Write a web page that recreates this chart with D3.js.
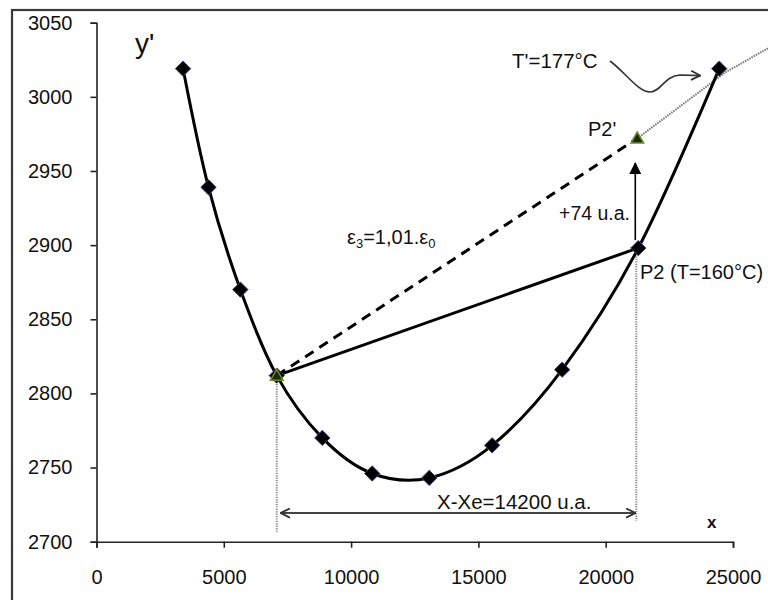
<!DOCTYPE html>
<html><head><meta charset="utf-8">
<script src="https://cdn.jsdelivr.net/npm/d3@7"></script>
<style>
html,body{margin:0;padding:0;background:#fff;}
svg{display:block;font-family:"Liberation Sans",Arial,sans-serif;}
</style></head>
<body>
<svg id="chart" width="768" height="600"></svg>
<script>
// ---- data ----
const xValues = [3400, 4400, 5650, 7080, 8870, 10830, 13070, 15540, 18290, 21280, 24460];
const yValues = [3019, 2939, 2870, 2812, 2770, 2746, 2743, 2765, 2816, 2898, 3019];
const xTicks = [0, 5000, 10000, 15000, 20000, 25000];
const yTicks = [2700, 2750, 2800, 2850, 2900, 2950, 3000, 3050];
const pointP1 = [7080, 2812];
const pointP2 = [21260, 2898];
const pointP2b = [21240, 2972];
const extLine = [[21240, 2972], [24700, 3016.5], [26400, 3033]];
const labelY = "y'";
const labelX = "x";
const textT = "T'=177°C";
const textP2b = "P2'";
const textDelta = "+74 u.a.";
const textP2 = "P2 (T=160°C)";
const textDX = "X-Xe=14200 u.a.";

// ---- layout ----
const svg = d3.select("#chart");
const x = d3.scaleLinear().domain([0, 25000]).range([96.5, 733]);
const y = d3.scaleLinear().domain([2700, 3050]).range([541.7, 22.7]);

// frame
svg.append("rect").attr("x", 12).attr("y", 10).attr("width", 800).attr("height", 620)
  .attr("fill", "#fff").attr("stroke", "#3a3a3a").attr("stroke-width", 2.2);

// axes
const yAxis = svg.append("g").attr("transform", `translate(${x(0)},0)`)
  .call(d3.axisLeft(y).tickValues(yTicks).tickFormat(d3.format("d")).tickSize(6).tickPadding(18));
const xAxis = svg.append("g").attr("transform", `translate(0,${y(2700)})`)
  .call(d3.axisBottom(x).tickValues(xTicks).tickFormat(d3.format("d")).tickSize(6).tickPadding(22));
[xAxis, yAxis].forEach(g => {
  g.selectAll("path,line").attr("stroke", "#222").attr("stroke-width", 1.6);
  g.selectAll("text").attr("font-size", 20).attr("fill", "#111")
    .attr("font-family", "Liberation Sans, Arial, sans-serif");
});

// dotted verticals
const dotted = {stroke: "#888", "stroke-width": 2, "stroke-dasharray": "1.2,1.2"};
function applyAttrs(sel, o){ Object.entries(o).forEach(([k,v]) => sel.attr(k, v)); return sel; }
applyAttrs(svg.append("line").attr("x1", x(pointP1[0])).attr("x2", x(pointP1[0]))
  .attr("y1", y(pointP1[1]) + 6).attr("y2", 533), dotted);
applyAttrs(svg.append("line").attr("x1", x(pointP2[0]) - 1.5).attr("x2", x(pointP2[0]) - 1.5)
  .attr("y1", y(pointP2[1]) + 6).attr("y2", 521), dotted);

// extension dotted line
applyAttrs(svg.append("path").attr("d", d3.line().x(d => x(d[0])).y(d => y(d[1]))(extLine))
  .attr("fill", "none"), {stroke: "#777", "stroke-width": 2, "stroke-dasharray": "1.5,1"});

// dashed line P1 -> P2'
svg.append("line").attr("x1", x(pointP1[0])).attr("y1", y(pointP1[1]))
  .attr("x2", x(pointP2b[0])).attr("y2", y(pointP2b[1]))
  .attr("stroke", "#000").attr("stroke-width", 3).attr("stroke-dasharray", "10,7");

// solid line P1 -> P2
svg.append("line").attr("x1", x(pointP1[0])).attr("y1", y(pointP1[1]))
  .attr("x2", x(pointP2[0])).attr("y2", y(pointP2[1]))
  .attr("stroke", "#000").attr("stroke-width", 3);

// smooth curve
const pts = xValues.map((v, i) => [v, yValues[i]]);
svg.append("path")
  .attr("d", d3.line().x(d => x(d[0])).y(d => y(d[1])).curve(d3.curveCardinal.tension(0))(pts))
  .attr("fill", "none").attr("stroke", "#000").attr("stroke-width", 3);

// markers
svg.selectAll(".dia").data(pts).join("path").attr("class", "dia")
  .attr("d", d3.symbol(d3.symbolDiamond2, 150)())
  .attr("transform", d => `translate(${x(d[0])},${y(d[1])})`)
  .attr("fill", "#000").attr("stroke", "#4a3a7a").attr("stroke-width", 1);
svg.selectAll(".tri").data([pointP1, pointP2b]).join("path").attr("class", "tri")
  .attr("d", d3.symbol(d3.symbolTriangle, 70)())
  .attr("transform", d => `translate(${x(d[0])},${y(d[1]) + 1})`)
  .attr("fill", "#1e2a05").attr("stroke", "#6e8a2e").attr("stroke-width", 1.5);

// defs
const defs = svg.append("defs");
defs.append("marker").attr("id", "fillArrow").attr("viewBox", "0 0 12 12")
  .attr("refX", 11).attr("refY", 6).attr("markerWidth", 12).attr("markerHeight", 12)
  .attr("markerUnits", "userSpaceOnUse").attr("orient", "auto")
  .append("path").attr("d", "M0,0 L12,6 L0,12 Z").attr("fill", "#000");
defs.append("marker").attr("id", "openArrow").attr("viewBox", "0 0 12 12")
  .attr("refX", 11).attr("refY", 6).attr("markerWidth", 11).attr("markerHeight", 11)
  .attr("markerUnits", "userSpaceOnUse").attr("orient", "auto-start-reverse")
  .append("path").attr("d", "M1,1 L11,6 L1,11").attr("fill", "none").attr("stroke", "#333").attr("stroke-width", 2);

// up arrow P2 -> P2'
svg.append("line").attr("x1", x(pointP2[0]) - 2.5).attr("x2", x(pointP2[0]) - 2.5)
  .attr("y1", y(pointP2[1]) - 8).attr("y2", 163)
  .attr("stroke", "#000").attr("stroke-width", 1.6).attr("marker-end", "url(#fillArrow)");

// double arrow
svg.append("line").attr("x1", x(pointP1[0]) + 4).attr("x2", x(pointP2[0]) - 2.5)
  .attr("y1", 513).attr("y2", 513)
  .attr("stroke", "#444").attr("stroke-width", 2)
  .attr("marker-start", "url(#openArrow)").attr("marker-end", "url(#openArrow)");

// curly arrow
const p11 = [x(xValues[10]), y(yValues[10])];
svg.append("path")
  .attr("d", `M610,61 C625,72 638,92 650,92 C661,92 664,76 680,75 L${p11[0]-19},${p11[1]+7}`)
  .attr("fill", "none").attr("stroke", "#333").attr("stroke-width", 1.6)
  .attr("marker-end", "url(#openArrow)");

// texts
const t = (tx, ty, s, size, extra) => {
  const el = svg.append("text").attr("x", tx).attr("y", ty).attr("font-size", size).attr("fill", "#111").text(s);
  if (extra) extra(el);
  return el;
};
t(135, 53, labelY, 28);
t(707, 528, labelX, 17, e => e.attr("font-weight", "bold"));
t(512, 68, textT, 20.5);
t(588, 136, textP2b, 20);
t(559, 220, textDelta, 19.5);
t(640, 279, textP2, 20);
t(437, 509, textDX, 20.5);
const eps = svg.append("text").attr("x", 347).attr("y", 244).attr("font-size", 20).attr("fill", "#111");
eps.append("tspan").text("ε");
eps.append("tspan").attr("font-size", 13).attr("dy", 4).text("3");
eps.append("tspan").attr("dy", -4).text("=1,01.ε");
eps.append("tspan").attr("font-size", 13).attr("dy", 4).text("0");
</script>
</body></html>
